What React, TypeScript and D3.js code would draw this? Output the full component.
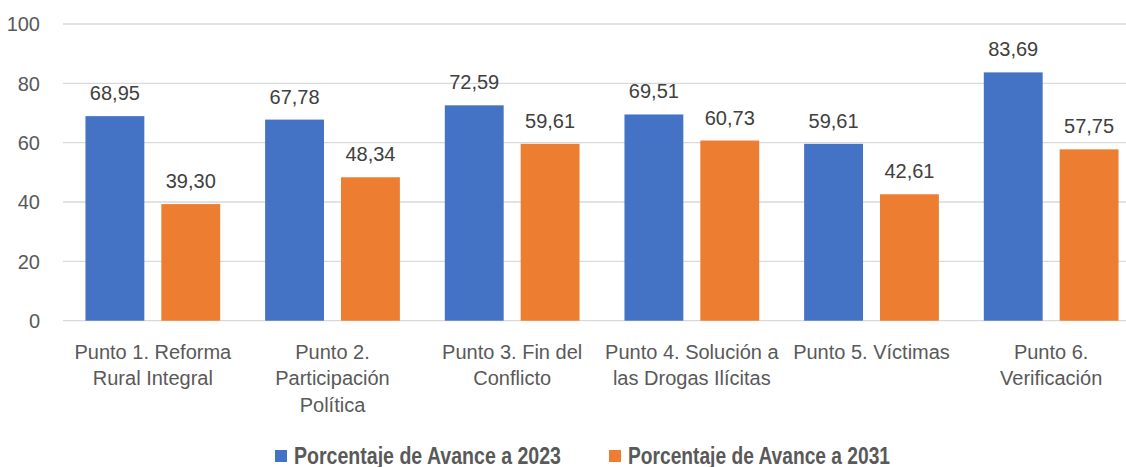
import React from 'react';
import * as d3 from 'd3';

// chart data
const categories = [
  ['Punto 1. Reforma', 'Rural Integral'],
  ['Punto 2.', 'Participación', 'Política'],
  ['Punto 3. Fin del', 'Conflicto'],
  ['Punto 4. Solución a', 'las Drogas Ilícitas'],
  ['Punto 5. Víctimas'],
  ['Punto 6.', 'Verificación'],
];
const avance2023 = [68.95, 67.78, 72.59, 69.51, 59.61, 83.69];
const avance2031 = [39.3, 48.34, 59.61, 60.73, 42.61, 57.75];
const seriesNames = ['Porcentaje de Avance a 2023', 'Porcentaje de Avance a 2031'];
const seriesColors = ['#4472C4', '#ED7D31'];
const yTicks = [0, 20, 40, 60, 80, 100];

const W = 1126;
const H = 467;
const FONT = 'Arial, "Liberation Sans", sans-serif';

export default function App() {
  const series = [avance2023, avance2031];
  const x = d3.scaleBand<number>().domain(d3.range(categories.length)).range([63, 1141]).padding(0);
  const xSub = d3.scaleBand<number>().domain([0, 1]).range([0, x.bandwidth()]).paddingInner(0.224).paddingOuter(0.296);
  const y = d3.scaleLinear().domain([0, 100]).range([320.7, 24]);
  const fmt = (v: number) => v.toFixed(2).replace('.', ',');

  // legend layout (square x, text width)
  const legendX = [275, 609];
  const legendW = [267, 262];

  return (
    <svg width={W} height={H} style={{ position: 'absolute', left: 0, top: 0, background: '#fff' }}>
      {/* gridlines */}
      {yTicks.map((t) => (
        <g key={t}>
          <line x1={63} x2={W} y1={y(t)} y2={y(t)} stroke="#d9d9d9" strokeWidth={1.3} />
          <text x={40} y={y(t)} dy="0.36em" textAnchor="end" fontFamily={FONT} fontSize={20} fill="#595959">
            {t}
          </text>
        </g>
      ))}

      {/* bars + value labels */}
      {series.map((vals, s) =>
        vals.map((v, i) => {
          const bx = (x(i) as number) + (xSub(s) as number);
          return (
            <g key={`${s}-${i}`}>
              <rect x={bx} y={y(v)} width={xSub.bandwidth()} height={y(0) - y(v)} fill={seriesColors[s]} />
              <text x={bx + xSub.bandwidth() / 2} y={y(v) - 16} textAnchor="middle" fontFamily={FONT} fontSize={20} fill="#404040">
                {fmt(v)}
              </text>
            </g>
          );
        })
      )}

      {/* category labels */}
      {categories.map((lines, i) => (
        <text key={i} textAnchor="middle" fontFamily={FONT} fontSize={20} fill="#595959">
          {lines.map((ln, j) => (
            <tspan key={j} x={(x(i) as number) + x.bandwidth() / 2} y={358.5 + j * 26.8}>
              {ln}
            </tspan>
          ))}
        </text>
      ))}

      {/* legend */}
      {seriesNames.map((name, s) => {
        const lx = legendX[s];
        return (
          <g key={name}>
            <rect x={lx} y={450} width={12} height={12} fill={seriesColors[s]} />
            <text x={lx + 19} y={464.3} fontFamily={FONT} fontSize={23} fontWeight="bold" fill="#595959" textLength={legendW[s]} lengthAdjust="spacingAndGlyphs">
              {name}
            </text>
          </g>
        );
      })}
    </svg>
  );
}
